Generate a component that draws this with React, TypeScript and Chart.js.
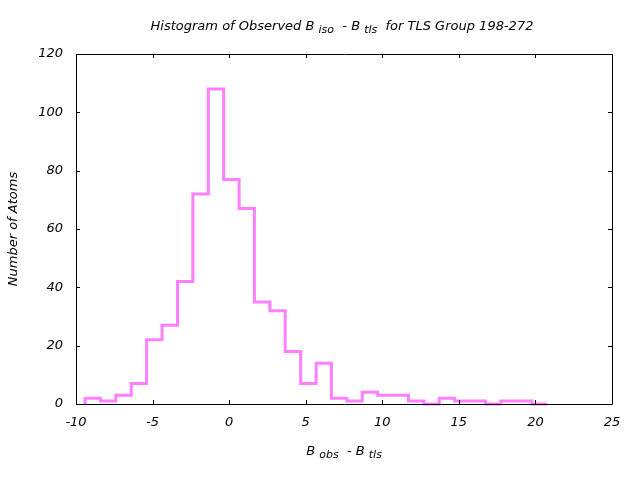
import React, { useEffect, useRef } from "react";
import { Chart, registerables } from "chart.js";

Chart.register(...registerables);

const binEdges = [-9.41, -8.4, -7.4, -6.39, -5.39, -4.38, -3.37, -2.37, -1.36, -0.36, 0.65, 1.65, 2.66, 3.66, 4.67, 5.68, 6.68, 7.69, 8.69, 9.7, 10.7, 11.71, 12.72, 13.72, 14.73, 15.73, 16.74, 17.74, 18.75, 19.76, 20.76];
const counts = [2, 1, 3, 7, 22, 27, 42, 72, 108, 77, 67, 35, 32, 18, 7, 14, 2, 1, 4, 3, 3, 1, 0, 2, 1, 1, 0, 1, 1, 0];
const xTicks = [-10, -5, 0, 5, 10, 15, 20, 25];
const yTicks = [0, 20, 40, 60, 80, 100, 120];

const FONT = "'DejaVu Sans', sans-serif";
const LINE_COLOR = "#ff80ff";

type Part = { t: string; sub?: boolean };
const titleParts: Part[] = [
  { t: "Histogram of Observed B " },
  { t: "iso", sub: true },
  { t: "  - B " },
  { t: "tls", sub: true },
  { t: "  for TLS Group 198-272" },
];
const xTitleParts: Part[] = [
  { t: "B " },
  { t: "obs", sub: true },
  { t: "  - B " },
  { t: "tls", sub: true },
];
const yTitle = "Number of Atoms";

function drawParts(ctx: CanvasRenderingContext2D, parts: Part[], cx: number, cy: number, size: number) {
  const mainFont = `italic ${size}px ${FONT}`;
  const subFont = `italic ${Math.round(size * 0.85)}px ${FONT}`;
  let total = 0;
  const widths = parts.map((p) => {
    ctx.font = p.sub ? subFont : mainFont;
    const w = ctx.measureText(p.t).width;
    total += w;
    return w;
  });
  let x = cx - total / 2;
  ctx.textBaseline = "middle";
  ctx.textAlign = "left";
  ctx.fillStyle = "#000";
  parts.forEach((p, i) => {
    ctx.font = p.sub ? subFont : mainFont;
    ctx.fillText(p.t, x, p.sub ? cy + 3 : cy);
    x += widths[i];
  });
}

const framePlugin = {
  id: "frame",
  afterDraw(chart: any) {
    const { ctx, chartArea } = chart;
    const { left, right, top, bottom } = chartArea;
    const xs = chart.scales.x;
    const ys = chart.scales.y;
    ctx.save();
    ctx.strokeStyle = "#000";
    ctx.lineWidth = 1;
    ctx.beginPath();
    ctx.rect(Math.round(left) + 0.5, Math.round(top) + 0.5, Math.round(right - left), Math.round(bottom - top));
    ctx.stroke();
    const tl = 4;
    ctx.beginPath();
    xTicks.forEach((v) => {
      const px = Math.round(xs.getPixelForValue(v)) + 0.5;
      ctx.moveTo(px, bottom);
      ctx.lineTo(px, bottom - tl);
      ctx.moveTo(px, top);
      ctx.lineTo(px, top + tl);
    });
    yTicks.forEach((v) => {
      const py = Math.round(ys.getPixelForValue(v)) + 0.5;
      ctx.moveTo(left, py);
      ctx.lineTo(left + tl, py);
      ctx.moveTo(right, py);
      ctx.lineTo(right - tl, py);
    });
    ctx.stroke();

    drawParts(ctx, titleParts, (left + right) / 2 - 2, 27, 13);
    drawParts(ctx, xTitleParts, (left + right) / 2, 452, 13);
    ctx.translate(14, (top + bottom) / 2);
    ctx.rotate(-Math.PI / 2);
    ctx.font = `italic 13px ${FONT}`;
    ctx.textAlign = "center";
    ctx.textBaseline = "middle";
    ctx.fillStyle = "#000";
    ctx.fillText(yTitle, 0, 0);
    ctx.restore();
  },
};

export default function App() {
  const ref = useRef<HTMLCanvasElement>(null);
  useEffect(() => {
    if (!ref.current) return;
    const pts: { x: number; y: number }[] = [{ x: binEdges[0], y: 0 }];
    counts.forEach((c, i) => pts.push({ x: binEdges[i], y: c }));
    pts.push({ x: binEdges[binEdges.length - 1], y: counts[counts.length - 1] });
    const chart = new Chart(ref.current, {
      type: "line",
      data: {
        datasets: [
          {
            data: pts,
            stepped: "before",
            borderColor: LINE_COLOR,
            borderWidth: 3,
            pointRadius: 0,
            fill: false,
            clip: 4,
          } as any,
        ],
      },
      options: {
        animation: false,
        responsive: false,
        events: [],
        layout: { padding: { left: 0, right: 28, top: 54, bottom: 0 } },
        plugins: { legend: { display: false }, tooltip: { enabled: false }, title: { display: false } },
        scales: {
          x: {
            type: "linear",
            min: -10,
            max: 25,
            afterFit: (s: any) => { s.height = 76; },
            afterBuildTicks: (s: any) => { s.ticks = xTicks.map((v) => ({ value: v })); },
            grid: { display: false, drawTicks: false },
            border: { display: false },
            ticks: { color: "#000", font: { family: FONT, size: 13, style: "italic" }, padding: 11, maxRotation: 0, autoSkip: false },
          },
          y: {
            type: "linear",
            min: 0,
            max: 120,
            afterFit: (s: any) => { s.width = 76; },
            afterBuildTicks: (s: any) => { s.ticks = yTicks.map((v) => ({ value: v })); },
            grid: { display: false, drawTicks: false },
            border: { display: false },
            ticks: { color: "#000", font: { family: FONT, size: 13, style: "italic" }, padding: 13, autoSkip: false },
          },
        },
      },
      plugins: [framePlugin],
    });
    return () => chart.destroy();
  }, []);
  return (
    <div style={{ position: "fixed", left: 0, top: 0, width: 640, height: 480, background: "#fff" }}>
      <canvas ref={ref} width={640} height={480} style={{ width: 640, height: 480 }} />
    </div>
  );
}
